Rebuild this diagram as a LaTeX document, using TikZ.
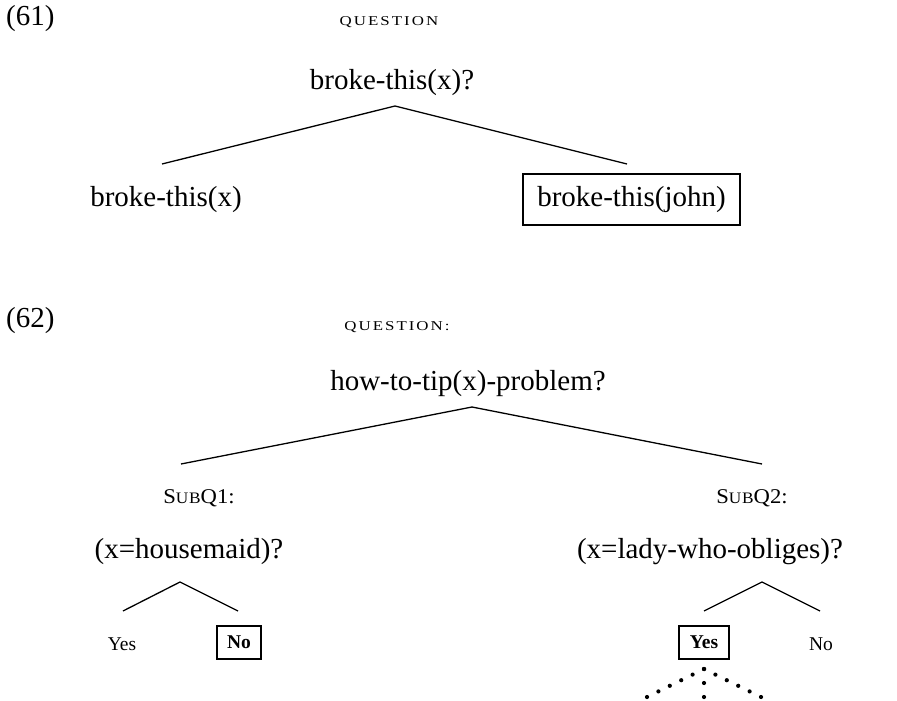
\documentclass[tikz,border=0pt]{standalone}
\usepackage{fontspec}
\setmainfont{Liberation Serif}
\usetikzlibrary{calc}
% small capitals built from scaled upper-case letters
\newcommand\scword[3]{{\fontsize{#1}{#1}\selectfont\addfontfeature{LetterSpace=#2}#3}}
\newcommand\wide[2]{\scalebox{#1}[1]{#2}}
\begin{document}
\begin{tikzpicture}[x=1pt,y=-1pt,
  big/.style={inner sep=0pt,font=\fontsize{29}{34}\selectfont},
  small/.style={inner sep=0pt,font=\fontsize{19.5}{22}\selectfont},
  label/.style={inner sep=0pt},
  boxed/.style={draw,line width=1.2pt,inner sep=0pt},
  edge/.style={line width=1.3pt},
  dot/.style={fill=black}]
\useasboundingbox (0,0) rectangle (897,701);

% (61)
\node[big,anchor=west] (n61) at (6,19) {(61)};
\node[label] (q61) at (389,22) {\wide{1.25}{\scword{13.5}{12}{QUESTION}}};
\node[big] (p61) at (392,83) {broke-this(x)?};
\node[big] (c61a) at (166,200) {broke-this(x)};
\node[big,boxed,minimum width=217pt,minimum height=51pt] (c61b) at (631.5,199.5) {broke-this(john)};
\coordinate (a61) at (395,106);
\coordinate (l61) at (162,164);
\coordinate (r61) at (627,164);
\draw[edge] (l61) -- (a61) -- (r61);

% (62)
\node[big,anchor=west] (n62) at (6,321) {(62)};
\node[label] (q62) at (397,327) {\wide{1.25}{\scword{13.5}{12}{QUESTION:}}};
\node[big] (p62) at (468,384) {how-to-tip(x)-problem?};
\coordinate (a62) at (472,407);
\coordinate (l62) at (181,464);
\coordinate (r62) at (762,464);
\draw[edge] (l62) -- (a62) -- (r62);

\node[label] (s1) at (199,498) {\wide{1.08}{\fontsize{21}{24}\selectfont S\scword{16}{4}{UB}Q1:}};
\node[label] (s2) at (752,498) {\wide{1.08}{\fontsize{21}{24}\selectfont S\scword{16}{4}{UB}Q2:}};

\node[big] (h1) at (189,552) {(x=housemaid)?};
\node[big] (h2) at (710,552) {(x=lady-who-obliges)?};

% yes/no under the first subquestion
\coordinate (a1) at (180,582);
\coordinate (l1) at (123,611);
\coordinate (r1) at (238,611);
\draw[edge] (l1) -- (a1) -- (r1);
\node[small] (y1) at (122,644) {Yes};
\node[small,boxed,minimum width=44pt,minimum height=33pt] (n1) at (239,642.5) {\bfseries No};

% yes/no under the second subquestion
\coordinate (a2) at (762,582);
\coordinate (l2) at (704,611);
\coordinate (r2) at (820,611);
\draw[edge] (l2) -- (a2) -- (r2);
\node[small,boxed,minimum width=50pt,minimum height=33pt] (y2) at (704,642.5) {\bfseries Yes};
\node[small] (n2) at (821,644) {No};

% dotted continuation below the chosen answer
\coordinate (d0) at (704,669);
\coordinate (dl) at (647,697);
\coordinate (dr) at (761,697);
\coordinate (dc) at (704,697);
\foreach \t in {0,0.2,0.4,0.6,0.8,1}{
  \fill[dot] ($(d0)!\t!(dl)$) circle (2.1);
  \fill[dot] ($(d0)!\t!(dr)$) circle (2.1);
}
\foreach \t in {0,0.5,1}{
  \fill[dot] ($(d0)!\t!(dc)$) circle (2.1);
}
\end{tikzpicture}
\end{document}
